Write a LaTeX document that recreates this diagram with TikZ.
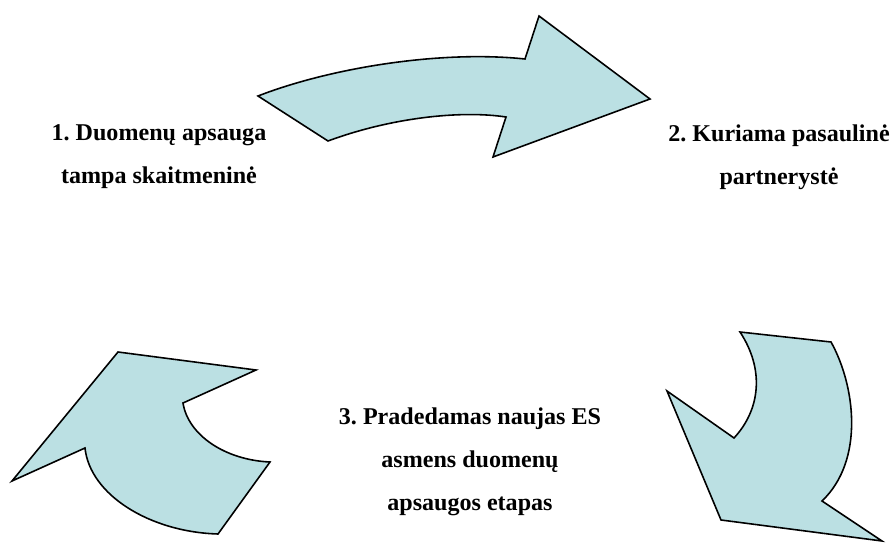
\documentclass[tikz,border=0pt]{standalone}
\usepackage{fontspec}
\setmainfont{Liberation Serif}
\usepackage{xcolor}
\usepackage{tikz}
\usetikzlibrary{positioning}
\frenchspacing
\definecolor{arrowblue}{RGB}{187,224,227}
\tikzstyle{bluearrow} = [fill=arrowblue, draw=black, line width=0.9pt, line join=miter]
\tikzstyle{stagetext} = [align=center, font=\fontsize{13.7}{24.5}\selectfont\bfseries]

\begin{document}
\begin{tikzpicture}[x=0.02cm, y=-0.02cm]
\useasboundingbox (0,0) rectangle (891,543);
% top arrow
\path[bluearrow] (258,96) .. controls (330,68) and (440,50) .. (525,59)
  -- (539,16) -- (650,99) -- (493,157) -- (506,117)
  .. controls (460,110) and (390,118) .. (328,141) -- cycle;
% right arrow
\path[bluearrow] (740,332) -- (831,342)
  .. controls (855,385) and (865,460) .. (822,501)
  -- (882,541) -- (721,520) -- (667,391) -- (734,438)
  .. controls (760,410) and (765,370) .. (740,332) -- cycle;
% left arrow
\path[bluearrow] (118,352) -- (256,370) -- (183,403)
  .. controls (188,435) and (225,460) .. (270,462)
  -- (218,534) .. controls (150,532) and (90,495) .. (85,448)
  -- (12,481) -- cycle;
\node[stagetext] (stage1) at (159,157) {1. Duomenų apsauga\\tampa skaitmeninė};
\node[stagetext] (stage2) at (779,157) {2. Kuriama pasaulinė\\partnerystė};
\node[stagetext] (stage3) at (470,462) {3. Pradedamas naujas ES\\asmens duomenų\\apsaugos etapas};
\end{tikzpicture}
\end{document}
